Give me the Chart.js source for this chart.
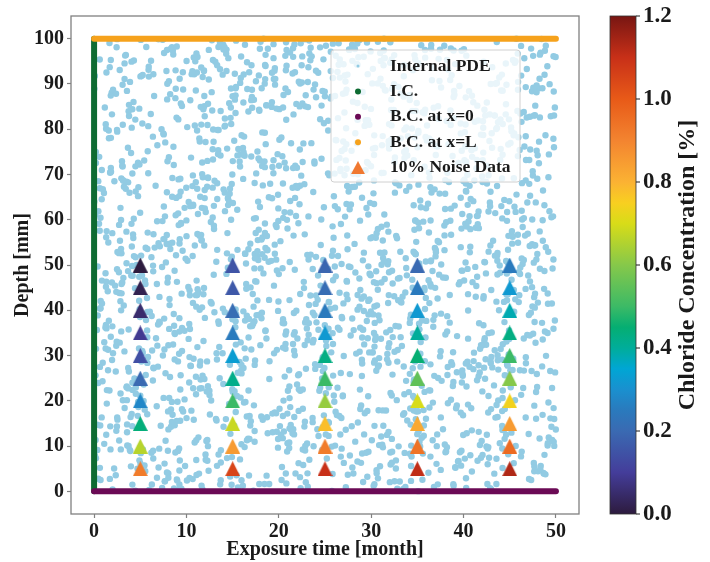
<!DOCTYPE html>
<html>
<head>
<meta charset="utf-8">
<script src="https://cdn.jsdelivr.net/npm/chart.js@4.4.1/dist/chart.umd.min.js"></script>
<style>
  html, body { margin: 0; padding: 0; background: #fff; }
  #wrap { width: 710px; height: 562px; }
</style>
</head>
<body>
<div id="wrap"><canvas id="pinn"></canvas></div>
<script>
  // axis ticks
  const xTicks  = [0, 10, 20, 30, 40, 50];
  const yTicks  = [0, 10, 20, 30, 40, 50, 60, 70, 80, 90, 100];
  const cbTicks = [0, 0.2, 0.4, 0.6, 0.8, 1.0, 1.2];

  // measured profiles: exposure time (month) x depth (mm) -> chloride (%)
  const times  = [5, 15, 25, 35, 45];
  const depths = [50, 45, 40, 35, 30, 25, 20, 15, 10, 5];
  const chloride = [
    [0.00, 0.02, 0.05, 0.09, 0.14, 0.20, 0.28, 0.44, 0.66, 0.92],
    [0.15, 0.16, 0.21, 0.25, 0.33, 0.42, 0.50, 0.68, 0.85, 1.05],
    [0.19, 0.21, 0.25, 0.32, 0.43, 0.50, 0.62, 0.78, 0.92, 1.10],
    [0.20, 0.25, 0.32, 0.40, 0.45, 0.55, 0.70, 0.82, 0.94, 1.11],
    [0.25, 0.32, 0.38, 0.43, 0.50, 0.60, 0.74, 0.85, 0.96, 1.13]
  ];

  // initial / boundary condition segments
  const icX  = [0, 0],  icY  = [0, 100];
  const bc0X = [0, 50], bc0Y = [0, 0];
  const bcLX = [0, 50], bcLY = [100, 100];

  // number of interior collocation points
  const nInterior = 2200;

  // colour map for chloride concentration
  const cmapVals   = [0.00, 0.10, 0.20, 0.25, 0.30, 0.35, 0.40, 0.45, 0.50, 0.60, 0.70, 0.75, 0.80, 0.90, 1.00, 1.10, 1.20];
  const cmapColors = ['#2d1b3e', '#443d9a', '#3a6ab2', '#2a7abd', '#1a90cf', '#00a6d4', '#00ad9a', '#05ae72', '#3cba66',
                      '#86c84a', '#d8dc18', '#f8cf20', '#fbb233', '#f38430', '#e85a18', '#c83018', '#781612'];

  const FONT = "'Liberation Serif', 'Times New Roman', serif";
  const INK  = '#1a1a1a';
  const SPINE = '#808080';

  function hex(c) { return [1, 3, 5].map(i => parseInt(c.slice(i, i + 2), 16)); }
  function cmap(v) {
    if (v <= cmapVals[0]) return cmapColors[0];
    for (let i = 1; i < cmapVals.length; i++) {
      if (v <= cmapVals[i]) {
        const t = (v - cmapVals[i - 1]) / (cmapVals[i] - cmapVals[i - 1]);
        const a = hex(cmapColors[i - 1]), b = hex(cmapColors[i]);
        return 'rgb(' + a.map((x, k) => Math.round(x + (b[k] - x) * t)).join(',') + ')';
      }
    }
    return cmapColors[cmapColors.length - 1];
  }

  // upright triangle marker centred on its bounding box
  function triangle(color, w, h) {
    const c = document.createElement('canvas');
    c.width = w; c.height = h;
    const g = c.getContext('2d');
    g.fillStyle = color;
    g.beginPath();
    g.moveTo(w / 2, 0); g.lineTo(w, h); g.lineTo(0, h);
    g.closePath(); g.fill();
    return c;
  }

  // uniformly sampled collocation points (fixed seed)
  function mulberry32(a) {
    return function() {
      a |= 0; a = a + 0x6D2B79F5 | 0;
      let t = Math.imul(a ^ a >>> 15, 1 | a);
      t = t + Math.imul(t ^ t >>> 7, 61 | t) ^ t;
      return ((t ^ t >>> 14) >>> 0) / 4294967296;
    };
  }
  const rng = mulberry32(20240517);
  const interior = Array.from({ length: nInterior }, () => ({ x: rng() * 50, y: rng() * 100 }));

  const noise = [];
  times.forEach((t, i) => depths.forEach((d, j) => noise.push({ x: t, y: d, c: chloride[i][j] })));
  const noiseMarks = noise.map(p => triangle(cmap(p.c), 15, 15));

  const seg = (xs, ys) => xs.map((x, i) => ({ x: x, y: ys[i] }));

  const legendItems = [
    { label: 'Internal PDE',      kind: 'dot', color: '#92cbe3', r: 1.5 },
    { label: 'I.C.',              kind: 'dot', color: '#0e6b32', r: 3 },
    { label: 'B.C. at x=0',       kind: 'dot', color: '#6b0a55', r: 3 },
    { label: 'B.C. at x=L',       kind: 'dot', color: '#f6a21c', r: 3 },
    { label: '10% Noise Data',    kind: 'tri', color: '#f07830' }
  ];

  const decor = {
    id: 'decor',
    afterDatasetsDraw(chart) {
      const { ctx, chartArea: a } = chart;
      const cb = chart.scales.cb;
      ctx.save();

      // frame
      ctx.strokeStyle = SPINE; ctx.lineWidth = 1.3;
      ctx.strokeRect(a.left, a.top, a.right - a.left, a.bottom - a.top);

      // legend
      const lx = 331, ly = 50, lw = 189, lh = 132;
      ctx.fillStyle = 'rgba(255,255,255,0.8)';
      ctx.strokeStyle = '#d0d0d0'; ctx.lineWidth = 1;
      ctx.beginPath(); ctx.roundRect(lx, ly, lw, lh, 3); ctx.fill(); ctx.stroke();
      ctx.font = 'bold 17.5px ' + FONT;
      ctx.textBaseline = 'middle'; ctx.textAlign = 'left';
      legendItems.forEach((it, i) => {
        const y = 66 + i * 25.4;
        if (it.kind === 'dot') {
          ctx.fillStyle = it.color;
          ctx.beginPath(); ctx.arc(358, y, it.r, 0, Math.PI * 2); ctx.fill();
        } else {
          ctx.drawImage(triangle(it.color, 14, 13), 351, y - 6.5);
        }
        ctx.fillStyle = INK;
        ctx.fillText(it.label, 390, y);
      });

      // colour bar
      const bx = a.right + 31, bw = 26;
      const y0 = cb.getPixelForValue(0), y1 = cb.getPixelForValue(1.2);
      const grad = ctx.createLinearGradient(0, y0, 0, y1);
      cmapVals.forEach((v, i) => grad.addColorStop(v / 1.2, cmapColors[i]));
      ctx.fillStyle = grad;
      ctx.fillRect(bx, y1, bw, y0 - y1);
      ctx.strokeStyle = '#333'; ctx.lineWidth = 0.8;
      ctx.strokeRect(bx, y1, bw, y0 - y1);
      ctx.strokeStyle = INK; ctx.lineWidth = 1;
      cbTicks.forEach(v => {
        const y = cb.getPixelForValue(v);
        ctx.beginPath(); ctx.moveTo(bx + bw, y); ctx.lineTo(bx + bw + 4, y); ctx.stroke();
      });

      // colour bar title, reading upwards
      ctx.translate(688, (y0 + y1) / 2);
      ctx.rotate(-Math.PI / 2);
      ctx.textAlign = 'center';
      ctx.font = 'bold 24px ' + FONT;
      ctx.fillStyle = INK;
      ctx.fillText('Chloride Concentration [%]', 0, 0);
      ctx.restore();
    }
  };

  const tickFont = { family: FONT, size: 20, weight: 'bold' };
  const titleFont = { family: FONT, size: 20, weight: 'bold' };
  const tickGrid = { drawOnChartArea: false, drawTicks: true, tickLength: 4, tickColor: SPINE, tickWidth: 1.2 };

  new Chart(document.getElementById('pinn'), {
    type: 'scatter',
    data: {
      datasets: [
        { label: 'Internal PDE', data: interior, pointRadius: 3.2, backgroundColor: '#92cbe3', borderWidth: 0, order: 5 },
        { label: 'I.C.', data: seg(icX, icY), showLine: true, borderColor: '#0e6b32', borderWidth: 6,
          borderCapStyle: 'round', pointRadius: 0, order: 4 },
        { label: 'B.C. at x=0', data: seg(bc0X, bc0Y), showLine: true, borderColor: '#6b0a55', borderWidth: 6,
          borderCapStyle: 'round', pointRadius: 0, order: 3 },
        { label: 'B.C. at x=L', data: seg(bcLX, bcLY), showLine: true, borderColor: '#f6a21c', borderWidth: 6,
          borderCapStyle: 'round', pointRadius: 0, order: 2 },
        { label: '10% Noise Data', data: noise, pointStyle: c => noiseMarks[c.dataIndex], pointRadius: 8, order: 1 }
      ]
    },
    options: {
      responsive: true,
      maintainAspectRatio: false,
      animation: false,
      events: [],
      layout: { padding: { top: 16, right: 0, bottom: 0, left: 0 } },
      plugins: { legend: { display: false }, tooltip: { enabled: false } },
      scales: {
        x: {
          type: 'linear', min: -2.5, max: 52.5,
          afterBuildTicks: s => { s.ticks = xTicks.map(v => ({ value: v })); },
          afterFit: s => { s.height = 48; },
          ticks: { font: tickFont, color: INK, padding: 2, maxRotation: 0 },
          grid: tickGrid,
          border: { display: false },
          title: { display: true, text: 'Exposure time [month]', font: titleFont, color: INK, padding: { top: 0, bottom: 0 } }
        },
        y: {
          type: 'linear', position: 'left', min: -5, max: 105,
          afterBuildTicks: s => { s.ticks = yTicks.map(v => ({ value: v })); },
          afterFit: s => { s.width = 71; },
          ticks: { font: tickFont, color: INK, padding: 3 },
          grid: tickGrid,
          border: { display: false },
          title: { display: true, text: 'Depth [mm]', font: titleFont, color: INK, padding: { top: 11, bottom: 0 } }
        },
        cb: {
          type: 'linear', position: 'right', min: 0, max: 1.2,
          afterBuildTicks: s => { s.ticks = cbTicks.map(v => ({ value: v })); },
          afterFit: s => { s.width = 131; },
          ticks: { font: { family: FONT, size: 23, weight: 'bold' }, color: INK, padding: 0, callback: v => v.toFixed(1) },
          // invisible tick marks push the labels past the colour bar
          grid: { display: true, drawOnChartArea: false, drawTicks: true, tickLength: 64, tickColor: 'rgba(0,0,0,0)' },
          border: { display: false }
        }
      }
    },
    plugins: [decor]
  });
</script>
</body>
</html>
